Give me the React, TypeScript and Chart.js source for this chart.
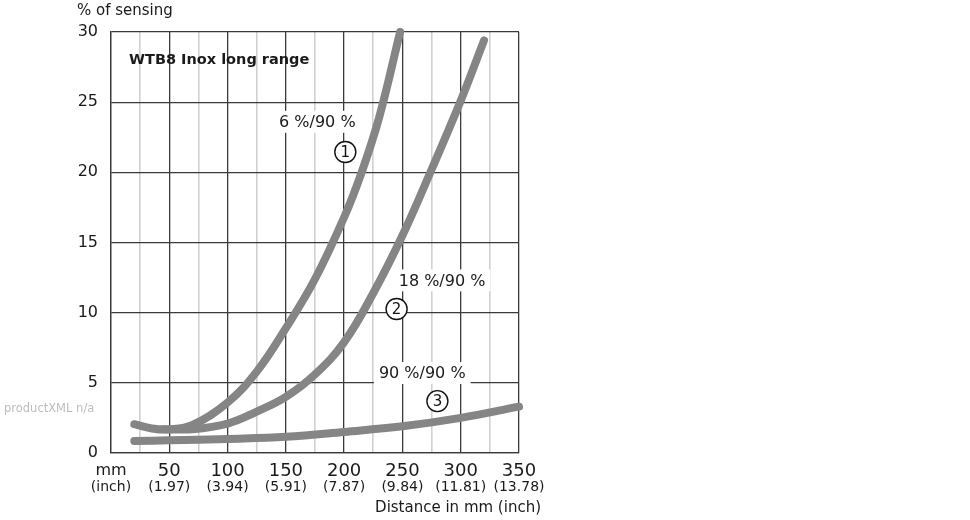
import React, { useEffect, useRef } from "react";
import { Chart, registerables } from "chart.js";

Chart.register(...registerables);

// ---- data ----
const curve1X = [20, 35, 50, 70, 100, 125, 150, 175, 200, 215, 230, 248];
const curve1Y = [2.05, 1.75, 1.68, 2.0, 3.6, 5.8, 8.9, 12.4, 16.8, 20.0, 23.9, 30.0];

const curve2X = [45, 70, 100, 125, 150, 175, 200, 225, 250, 275, 300, 320];
const curve2Y = [1.7, 1.7, 2.1, 2.95, 4.0, 5.6, 7.9, 11.4, 15.5, 20.2, 25.1, 29.4];

const curve3X = [20, 50, 100, 150, 200, 250, 300, 350];
const curve3Y = [0.86, 0.9, 1.0, 1.15, 1.5, 1.9, 2.5, 3.3];

const xTickValues = [0, 50, 100, 150, 200, 250, 300, 350];
const xTickMm = ["mm", "50", "100", "150", "200", "250", "300", "350"];
const xTickInch = ["(inch)", "(1.97)", "(3.94)", "(5.91)", "(7.87)", "(9.84)", "(11.81)", "(13.78)"];

const seriesLabels = ["6 %/90 %", "18 %/90 %", "90 %/90 %"];
const seriesNumbers = ["1", "2", "3"];
// annotation anchors in data units (mm, %)
const labelAnchorX = [177, 284, 267];
const labelAnchorY = [23.6, 12.3, 5.7];
const circleAnchorX = [201, 245, 280];
const circleAnchorY = [21.45, 10.26, 3.7];

const FONT = "'DejaVu Sans', Verdana, sans-serif";
const GRID_DARK = "#3a3a3a";
const GRID_LIGHT = "#d0d0d0";
const CURVE = "#858585";
const TEXT = "#1a1a1a";

const toPts = (xs: number[], ys: number[]) => xs.map((x, i) => ({ x, y: ys[i] }));

const decorPlugin = {
  id: "decor",
  beforeDatasetsDraw(chart: any) {
    const { ctx, scales } = chart;
    const xs = scales.x;
    const ys = scales.y;
    ctx.save();
    ctx.textBaseline = "middle";
    ctx.textAlign = "center";
    for (let i = 0; i < seriesLabels.length; i++) {
      ctx.font = `16px ${FONT}`;
      const px = xs.getPixelForValue(labelAnchorX[i]);
      const py = ys.getPixelForValue(labelAnchorY[i]);
      const w = ctx.measureText(seriesLabels[i]).width;
      ctx.fillStyle = "#ffffff";
      ctx.fillRect(px - w / 2 - 5, py - 11, w + 10, 22);
      ctx.fillStyle = TEXT;
      ctx.fillText(seriesLabels[i], px, py + 1);

      const cx = xs.getPixelForValue(circleAnchorX[i]);
      const cy = ys.getPixelForValue(circleAnchorY[i]);
      ctx.beginPath();
      ctx.arc(cx, cy, 10.5, 0, Math.PI * 2);
      ctx.fillStyle = "#ffffff";
      ctx.fill();
      ctx.lineWidth = 1.4;
      ctx.strokeStyle = "#111";
      ctx.stroke();
      ctx.fillStyle = "#111";
      ctx.font = `15px ${FONT}`;
      ctx.fillText(seriesNumbers[i], cx, cy + 1);
    }
    ctx.restore();
  },
  afterDraw(chart: any) {
    const { ctx, scales, chartArea } = chart;
    const xs = scales.x;
    ctx.save();
    ctx.textAlign = "center";
    ctx.textBaseline = "middle";
    ctx.fillStyle = TEXT;
    for (let i = 0; i < xTickValues.length; i++) {
      const px = xs.getPixelForValue(xTickValues[i]);
      ctx.font = i === 0 ? `16px ${FONT}` : `18px ${FONT}`;
      ctx.fillText(xTickMm[i], px, chartArea.bottom + 18);
      ctx.font = `14px ${FONT}`;
      ctx.fillText(xTickInch[i], px, chartArea.bottom + 34);
    }
    ctx.font = `15px ${FONT}`;
    ctx.textAlign = "right";
    ctx.fillText("Distance in mm (inch)", 541, chartArea.bottom + 55);
    ctx.textAlign = "left";
    ctx.font = `15px ${FONT}`;
    ctx.fillText("% of sensing", 77, 11);
    ctx.font = `bold 14.5px ${FONT}`;
    ctx.fillText("WTB8 Inox long range", 129, 60);
    ctx.font = `11.5px ${FONT}`;
    ctx.fillStyle = "#bdbdbd";
    ctx.fillText("productXML n/a", 4, 409);
    ctx.restore();
  },
};

export default function App() {
  const ref = useRef<HTMLCanvasElement | null>(null);
  useEffect(() => {
    if (!ref.current) return;
    const ds = (xs: number[], ys: number[], label: string) => ({
      label,
      data: toPts(xs, ys),
      borderColor: CURVE,
      backgroundColor: CURVE,
      borderWidth: 8,
      borderCapStyle: "round" as const,
      borderJoinStyle: "round" as const,
      pointRadius: 0,
      tension: 0.4,
      fill: false,
      clip: false as any,
    });
    const chart = new Chart(ref.current, {
      type: "line",
      data: {
        datasets: [
          ds(curve1X, curve1Y, seriesLabels[0]),
          ds(curve2X, curve2Y, seriesLabels[1]),
          ds(curve3X, curve3Y, seriesLabels[2]),
        ],
      },
      options: {
        animation: false,
        responsive: false,
        maintainAspectRatio: false,
        devicePixelRatio: 1,
        layout: { padding: { left: 0, top: 32, right: 451, bottom: 0 } },
        plugins: { legend: { display: false }, tooltip: { enabled: false } },
        scales: {
          x: {
            type: "linear",
            min: 0,
            max: 350,
            ticks: { display: false, stepSize: 25 },
            grid: {
              drawTicks: false,
              color: (c: any) => (c.tick && c.tick.value % 50 === 0 ? GRID_DARK : GRID_LIGHT),
              lineWidth: (c: any) => (c.tick && c.tick.value % 50 === 0 ? 1.3 : 1.6),
            },
            border: { display: true, color: GRID_DARK, width: 1.3 },
            afterFit: (s: any) => {
              s.height = 67;
            },
          },
          y: {
            type: "linear",
            min: 0,
            max: 30,
            ticks: {
              stepSize: 5,
              padding: 13,
              color: TEXT,
              font: { family: FONT, size: 16 },
            },
            grid: { drawTicks: false, color: GRID_DARK, lineWidth: 1.3 },
            border: { display: true, color: GRID_DARK, width: 1.3 },
            afterFit: (s: any) => {
              s.width = 111;
            },
          },
        },
      },
      plugins: [decorPlugin],
    });
    return () => chart.destroy();
  }, []);
  return (
    <div style={{ position: "absolute", left: 0, top: 0, width: 970, height: 520, background: "#fff" }}>
      <canvas ref={ref} width={970} height={520} style={{ width: 970, height: 520, display: "block" }} />
    </div>
  );
}
